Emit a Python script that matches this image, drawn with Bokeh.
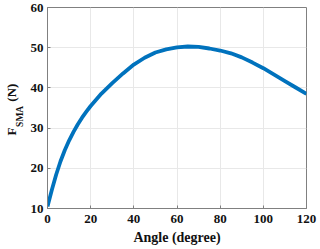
from bokeh.plotting import figure
from bokeh.models import FixedTicker, LinearAxis, Range1d
from bokeh.embed import file_html
from bokeh.resources import INLINE

# data
angle = [0, 2, 4, 6, 8, 10, 12, 14, 16, 18, 20, 25, 30, 35, 40, 45, 50, 55,
         60, 65, 70, 75, 80, 85, 90, 95, 100, 105, 110, 115, 120]
force = [10.5, 14.6, 18.4, 21.7, 24.5, 26.9, 29.0, 30.9, 32.6, 34.1, 35.5,
         38.6, 41.2, 43.6, 45.8, 47.5, 48.8, 49.6, 50.1, 50.3, 50.2, 49.8,
         49.3, 48.6, 47.6, 46.3, 44.9, 43.3, 41.7, 40.1, 38.5]
x_ticks = [0, 20, 40, 60, 80, 100, 120]
y_ticks = [10, 20, 30, 40, 50, 60]
x_label = "Angle (degree)"
y_label_main = "F"
y_label_sub = "SMA"
y_label_unit = "(N)"

FONT = "Liberation Serif"
AX = "#808080"
TXT = "#111111"
NB = "\u00a0"

p = figure(width=320, height=249, output_backend="svg", toolbar_location=None,
           x_range=Range1d(0, 120), y_range=Range1d(10, 60),
           min_border_left=45, min_border_right=14, min_border_top=7,
           min_border_bottom=41)
p.outline_line_color = AX
p.outline_line_width = 1
p.background_fill_color = "white"
p.border_fill_color = "white"

p.line(angle, force, line_width=3.8, line_color="#0072BD")

for ax, ticks in ((p.xaxis[0], x_ticks), (p.yaxis[0], y_ticks)):
    ax.ticker = FixedTicker(ticks=ticks)
    ax.minor_tick_line_color = None
    ax.major_tick_in = 3
    ax.major_tick_out = 0
    ax.major_tick_line_color = AX
    ax.axis_line_color = AX
    ax.major_label_text_font = FONT
    ax.major_label_text_font_style = "bold"
    ax.major_label_text_font_size = "13px"
    ax.major_label_text_color = TXT
    ax.axis_label_text_font = FONT
    ax.axis_label_text_font_style = "bold"
    ax.axis_label_text_color = TXT
p.xaxis.major_label_standoff = 6
p.yaxis.major_label_standoff = 4

# x axis title
p.xaxis.axis_label = x_label
p.xaxis.axis_label_text_font_size = "14px"
p.xaxis.axis_label_standoff = 4

# y axis title: subscript on the inner axis, main letter and unit on an outer one
p.yaxis.axis_label = y_label_sub + NB * 7
p.yaxis.axis_label_text_font_size = "9.5px"
p.yaxis.axis_label_standoff = 3

outer = LinearAxis(ticker=FixedTicker(ticks=[]), axis_line_color=None,
                   major_tick_line_color=None, minor_tick_line_color=None,
                   major_label_standoff=0, axis_label_standoff=-7,
                   axis_label=y_label_main + NB * 8 + y_label_unit + NB,
                   axis_label_text_font=FONT, axis_label_text_font_style="bold",
                   axis_label_text_font_size="13px", axis_label_text_color=TXT)
p.add_layout(outer, "left")

p.xgrid.ticker = FixedTicker(ticks=x_ticks)
p.ygrid.ticker = FixedTicker(ticks=y_ticks)
p.grid.grid_line_color = "#e8e8e8"
p.grid.grid_line_width = 1

open("out.html", "w").write(file_html(p, INLINE))
